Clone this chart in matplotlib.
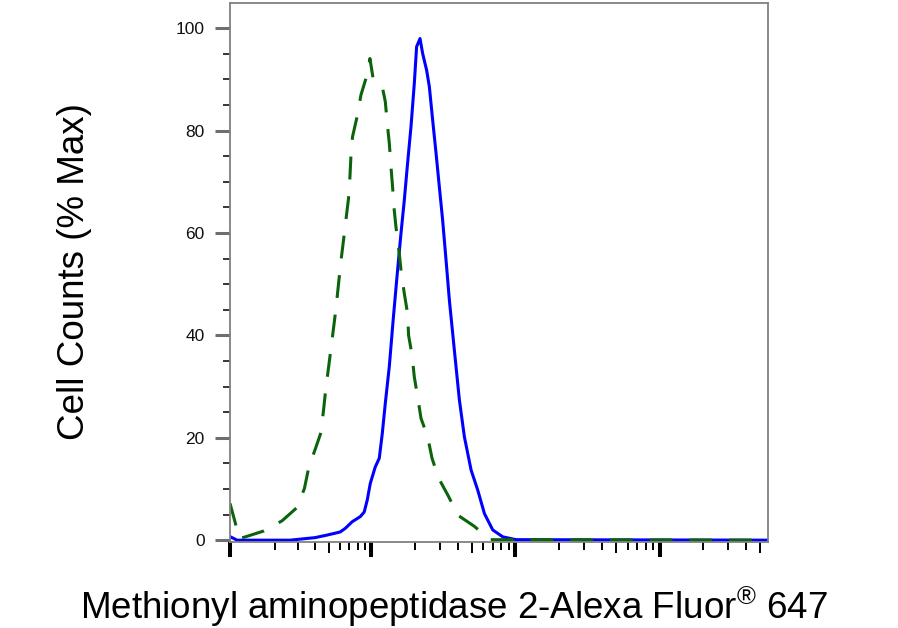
import matplotlib
matplotlib.use("Agg")
import matplotlib.pyplot as plt
from matplotlib.ticker import NullFormatter

plt.rcParams['font.family'] = ['Liberation Sans', 'DejaVu Sans']
plt.rcParams['mathtext.fontset'] = 'custom'
plt.rcParams['mathtext.rm'] = 'Liberation Sans'

# ---- data (fluorescence intensity, % of max) ----
stained_x = [74, 90, 262, 401, 489, 604, 656, 734, 836, 891, 935, 983, 1064,
             1135, 1191, 1250, 1333, 1420, 1515, 1607, 1695, 1786, 1887, 1989,
             2064, 2180, 2272, 2423, 2530, 2667, 2816, 2969, 3129, 3304, 3484,
             3774, 4088, 4428, 4929, 5478, 6098, 6965, 8170, 10120, 600000]
stained_y = [0.7, 0.0, 0.0, 0.5, 1.0, 1.6, 2.3, 3.6, 4.6, 5.5, 7.8, 11.1, 14.3,
             16.0, 20.8, 26.7, 33.9, 43.2, 52.1, 59.9, 66.4, 73.6, 80.8, 89.2,
             96.4, 98.0, 95.1, 91.8, 88.6, 82.1, 75.6, 69.0, 62.5, 54.7, 46.9,
             37.1, 27.4, 20.2, 13.7, 9.8, 5.2, 2.0, 0.65, 0.1, 0.0]

control_x = [74, 86, 94.5, 110, 162, 228, 296, 335, 361, 403, 441, 463, 478,
             519, 564, 611, 638, 663, 692, 707, 719, 738, 800, 846, 940, 977,
             1031, 1104, 1197, 1250, 1297, 1333, 1369, 1405, 1443, 1483, 1564,
             1607, 1695, 1786, 1816, 1918, 1989, 2098, 2215, 2462, 2641, 2936,
             3445, 3979, 5196, 6605, 600000]
control_y = [7.2, 3.3, 0.3, 0.65, 1.8, 3.8, 6.4, 10.1, 14.3, 17.9, 21.0, 26.0,
             29.6, 37.2, 45.2, 54.4, 58.6, 62.5, 66.8, 70.7, 74.9, 78.8, 83.1,
             87.0, 91.2, 94.1, 90.0, 88.9, 88.3, 85.7, 80.8, 77.6, 73.0, 69.0,
             64.5, 61.2, 56.0, 52.8, 48.2, 44.3, 40.0, 36.2, 31.9, 28.0, 23.8,
             20.2, 16.0, 12.1, 8.5, 4.9, 2.7, 0.1, 0.0]

x_major = [74, 1000, 10000, 100000]
x_minor = [200, 300, 400, 500, 600, 700, 800, 900,
           2000, 3000, 4000, 5000, 6000, 7000, 8000, 9000,
           20000, 30000, 40000, 50000, 60000, 70000, 80000, 90000,
           200000, 300000, 400000, 500000]
x_medium = [500, 5000, 50000, 500000]
y_major = [0, 20, 40, 60, 80, 100]
y_minor = [5, 10, 15, 25, 30, 35, 45, 50, 55, 65, 70, 75, 85, 90, 95]

fig = plt.figure(figsize=(8.98, 6.28), dpi=100)
ax = fig.add_axes([0.2561, 0.1374, 0.5991, 0.8583])
ax.set_xscale('asinh', linear_width=114)

ax.plot(stained_x, stained_y, color='#0000ff', lw=2.2)
ax.plot(control_x, control_y, color='#0b640b', lw=2.2,
        linestyle=(0, (7.5, 5.5)), dash_capstyle='butt')

ax.set_xlim(74, 5.64e5)
ax.set_ylim(-0.3, 105)

ax.set_xticks(x_major)
ax.set_xticks(x_minor, minor=True)
ax.xaxis.set_major_formatter(NullFormatter())
ax.xaxis.set_minor_formatter(NullFormatter())
ax.set_yticks(y_major)
ax.set_yticks(y_minor, minor=True)

ax.tick_params(axis='x', which='major', direction='out', length=10.8,
               width=2.9, color='black')
ax.tick_params(axis='x', which='minor', direction='out', length=5.8,
               width=1.4, color='black')
ax.tick_params(axis='y', which='major', direction='out', length=10.8,
               width=2.2, color='#6e6e6e', labelsize=12.5, pad=7.5,
               labelcolor='#111111')
ax.tick_params(axis='y', which='minor', direction='out', length=5,
               width=1.1, color='black')

for t, loc in zip(ax.xaxis.get_minor_ticks(len(x_minor)), x_minor):
    if loc in x_medium:
        t.tick1line.set_markersize(8.0)

for s in ax.spines.values():
    s.set_color('#808080')
    s.set_linewidth(1.3)

fig.text(75 / 898, 1 - 272 / 628, 'Cell Counts (% Max)', rotation=90,
         ha='center', va='center', fontsize=26.5)
fig.text(454 / 898, (628 - 619) / 628,
         'Methionyl aminopeptidase 2-Alexa Fluor$^{\\mathregular{®}}$ 647',
         ha='center', va='baseline', fontsize=26.5)

fig.savefig('out.png', dpi=100)
